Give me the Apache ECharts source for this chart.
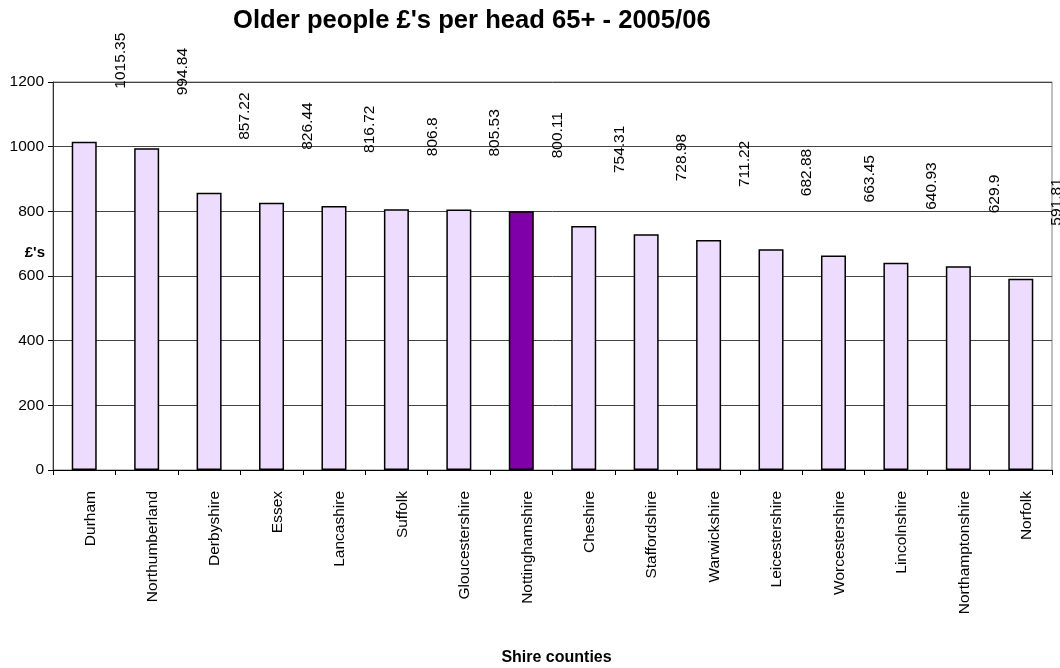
<!DOCTYPE html>
<html><head><meta charset="utf-8">
<script src="https://cdn.jsdelivr.net/npm/echarts@6/dist/echarts.min.js"></script>
<style>html,body{margin:0;padding:0;background:#fff}#c{width:1060px;height:668px}</style>
</head><body><div id="c"></div>
<script>
const categories = ['Durham','Northumberland','Derbyshire','Essex','Lancashire','Suffolk','Gloucestershire','Nottinghamshire','Cheshire','Staffordshire','Warwickshire','Leicestershire','Worcestershire','Lincolnshire','Northamptonshire','Norfolk'];
const values = [1015.35, 994.84, 857.22, 826.44, 816.72, 806.8, 805.53, 800.11, 754.31, 728.98, 711.22, 682.88, 663.45, 640.93, 629.9, 591.81];
const yTicks = [0, 200, 400, 600, 800, 1000, 1200];
const highlighted = 'Nottinghamshire';

const FONT = 'Liberation Sans, Arial, sans-serif';
const chart = echarts.init(document.getElementById('c'), null, {renderer: 'canvas'});
chart.setOption({
  animation: false,
  title: {
    text: "Older people £'s per head 65+ - 2005/06",
    left: 228, top: 3,
    textStyle: {fontFamily: FONT, fontSize: 25.6, fontWeight: 'bold', color: '#000'}
  },
  grid: {left: 53, right: 8, top: 82, bottom: 198, show: true, borderColor: '#808080', borderWidth: 1,
         containLabel: false, outerBoundsMode: 'none'},
  xAxis: {
    type: 'category', data: categories,
    name: 'Shire counties', nameLocation: 'middle', nameGap: 180,
    nameTextStyle: {fontFamily: FONT, fontSize: 16, fontWeight: 'bold', color: '#000', padding: [0, 0, 0, 8]},
    axisLine: {lineStyle: {color: '#000', width: 1}},
    axisTick: {show: true, alignWithLabel: false, length: 5, lineStyle: {color: '#000'}},
    axisLabel: {rotate: 90, interval: 0, margin: 21, fontFamily: FONT, fontSize: 15.5, color: '#000',
                verticalAlign: 'top', lineHeight: 12}
  },
  yAxis: {
    type: 'value', min: yTicks[0], max: yTicks[yTicks.length - 1], interval: yTicks[1] - yTicks[0],
    name: "£'s", nameLocation: 'middle', nameRotate: 0, nameGap: 8, nameMoveOverlap: false,
    nameTextStyle: {fontFamily: FONT, fontSize: 15, fontWeight: 'bold', color: '#000', verticalAlign: 'bottom', padding: [0, 0, 16, 0]},
    axisLine: {show: true, lineStyle: {color: '#333', width: 1}},
    axisTick: {show: true, length: 5, lineStyle: {color: '#000'}},
    axisLabel: {margin: 9, fontFamily: FONT, fontSize: 15.5, color: '#000', formatter: v => String(v)},
    splitLine: {show: true, lineStyle: {color: '#444', width: 1}}
  },
  series: [{
    type: 'bar', barWidth: 25,
    data: values.map((v, i) => ({
      value: v,
      itemStyle: {color: categories[i] === highlighted ? '#7F00A8' : '#EEDCFE'}
    })),
    itemStyle: {borderColor: '#000', borderWidth: 1.5},
    label: {
      show: true, position: 'top', rotate: 90, align: 'left', verticalAlign: 'middle',
      distance: 0, offset: [53, 36],
      fontFamily: FONT, fontSize: 15.5, color: '#000'
    }
  }]
});
</script></body></html>
